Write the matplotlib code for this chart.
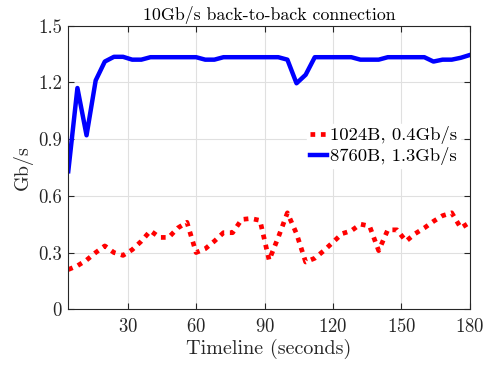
import numpy as np
import matplotlib
matplotlib.use("Agg")
import matplotlib.pyplot as plt

plt.rcParams["font.family"] = "serif"
plt.rcParams["font.serif"] = ["cmr10"]
plt.rcParams["mathtext.fontset"] = "cm"
plt.rcParams["axes.formatter.use_mathtext"] = True

# throughput samples, one every 4 seconds
t = np.arange(4, 181, 4)

small_pkt = [0.21, 0.23, 0.26, 0.30, 0.335, 0.30, 0.285, 0.315, 0.36, 0.415,
             0.38, 0.38, 0.43, 0.46, 0.30, 0.32, 0.36, 0.405, 0.405, 0.475,
             0.48, 0.47, 0.26, 0.38, 0.51, 0.40, 0.25, 0.27, 0.31, 0.355,
             0.40, 0.415, 0.45, 0.44, 0.31, 0.42, 0.42, 0.36, 0.40, 0.43,
             0.465, 0.495, 0.51, 0.43, 0.46]

jumbo_pkt = [0.73, 1.17, 0.92, 1.21, 1.31, 1.335, 1.335, 1.32, 1.32, 1.333,
             1.333, 1.333, 1.333, 1.333, 1.333, 1.32, 1.32, 1.333, 1.333, 1.333,
             1.333, 1.333, 1.333, 1.333, 1.32, 1.195, 1.24, 1.333, 1.333, 1.333,
             1.333, 1.333, 1.32, 1.32, 1.32, 1.333, 1.333, 1.333, 1.333, 1.333,
             1.31, 1.32, 1.32, 1.33, 1.345]

labels = ["1024B, 0.4Gb/s", "8760B, 1.3Gb/s"]
xticks = [30, 60, 90, 120, 150, 180]
yticks = [0, 0.3, 0.6, 0.9, 1.2, 1.5]

dark = (0.15, 0.15, 0.15)

fig = plt.figure(figsize=(4.85, 3.66), dpi=100)
ax = fig.add_axes([0.1408, 0.155, 0.8282, 0.775])

ax.plot(t, small_pkt, color=(1, 0, 0), linewidth=3.4,
        linestyle=(0, (1, 1.2)), label=labels[0])
ax.plot(t, jumbo_pkt, color=(0, 0, 1), linewidth=3.2, label=labels[1])

ax.set_xlim(4, 180)
ax.set_ylim(0, 1.5)
ax.set_xticks(xticks)
ax.set_yticks(yticks)
ax.set_yticklabels(["0", "0.3", "0.6", "0.9", "1.2", "1.5"])

ax.grid(True, color=(0.88, 0.88, 0.88), linewidth=0.8)
ax.set_axisbelow(True)
for s in ax.spines.values():
    s.set_color(dark)
    s.set_linewidth(0.8)
ax.tick_params(direction="in", length=4, width=0.8, colors=dark,
               labelsize=13.5, top=True, right=True)
ax.tick_params(axis="x", pad=6.5)
ax.tick_params(axis="y", pad=4.5)

ax.set_xlabel("Timeline (seconds)", fontsize=14.5, color=dark, labelpad=2)
ax.set_ylabel("Gb/s", fontsize=14.5, color=dark, labelpad=4)
ax.set_title("10Gb/s back-to-back connection", fontsize=12.8, pad=4)

leg = ax.legend(loc="center right", bbox_to_anchor=(0.975, 0.576), fontsize=13.4,
                frameon=True, fancybox=False, framealpha=1, edgecolor="white",
                handlelength=0.95, handletextpad=0.15, borderpad=0.15,
                labelspacing=0.15, borderaxespad=0)

fig.savefig("out.png", dpi=100)
